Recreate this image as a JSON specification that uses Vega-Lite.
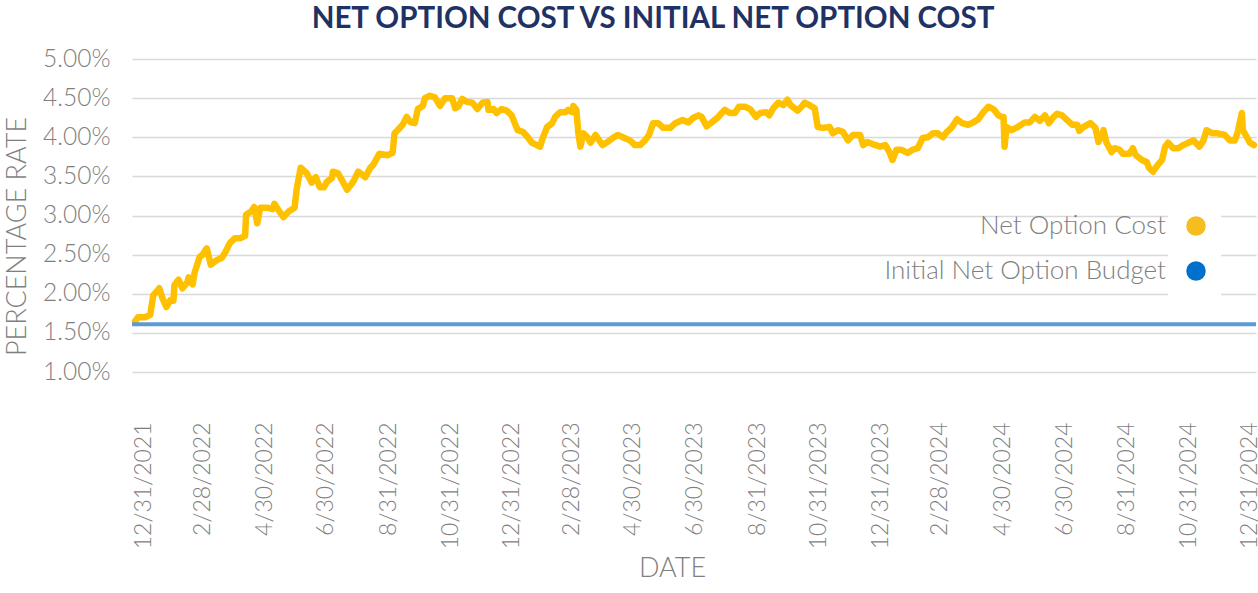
{
  "$schema": "https://vega.github.io/schema/vega-lite/v6.json",
  "width": 1124,
  "height": 313,
  "autosize": {"type": "none"},
  "padding": {"left": 132, "top": 59, "right": 2, "bottom": 221},
  "background": "white",
  "title": {
    "text": "NET OPTION COST VS INITIAL NET OPTION COST",
    "font": "Lato",
    "fontSize": 29.5,
    "fontWeight": "bold",
    "color": "#1f3264",
    "anchor": "middle",
    "frame": "group",
    "dx": -41,
    "offset": 12
  },
  "config": {
    "view": {"stroke": null},
    "axis": {"grid": true, "gridColor": "#d9d9d9", "gridWidth": 1.5, "domain": false, "ticks": false}
  },
  "datasets": {
    "cost": [
      {"date": "2021-12-23", "value": 1.65},
      {"date": "2021-12-26", "value": 1.70},
      {"date": "2022-01-02", "value": 1.70},
      {"date": "2022-01-07", "value": 1.73},
      {"date": "2022-01-10", "value": 1.98},
      {"date": "2022-01-16", "value": 2.07},
      {"date": "2022-01-19", "value": 1.95},
      {"date": "2022-01-23", "value": 1.83},
      {"date": "2022-01-27", "value": 1.92},
      {"date": "2022-01-30", "value": 1.91},
      {"date": "2022-01-31", "value": 2.11},
      {"date": "2022-02-04", "value": 2.18},
      {"date": "2022-02-08", "value": 2.07},
      {"date": "2022-02-13", "value": 2.15},
      {"date": "2022-02-14", "value": 2.21},
      {"date": "2022-02-18", "value": 2.12},
      {"date": "2022-02-20", "value": 2.27},
      {"date": "2022-02-25", "value": 2.47},
      {"date": "2022-02-28", "value": 2.50},
      {"date": "2022-03-04", "value": 2.58},
      {"date": "2022-03-08", "value": 2.37},
      {"date": "2022-03-14", "value": 2.43},
      {"date": "2022-03-19", "value": 2.46},
      {"date": "2022-03-22", "value": 2.52},
      {"date": "2022-03-27", "value": 2.65},
      {"date": "2022-04-01", "value": 2.71},
      {"date": "2022-04-06", "value": 2.71},
      {"date": "2022-04-11", "value": 2.74},
      {"date": "2022-04-12", "value": 3.01},
      {"date": "2022-04-17", "value": 3.05},
      {"date": "2022-04-20", "value": 3.11},
      {"date": "2022-04-23", "value": 2.90},
      {"date": "2022-04-26", "value": 3.10},
      {"date": "2022-05-03", "value": 3.10},
      {"date": "2022-05-08", "value": 3.08},
      {"date": "2022-05-10", "value": 3.15},
      {"date": "2022-05-14", "value": 3.07},
      {"date": "2022-05-19", "value": 2.98},
      {"date": "2022-05-24", "value": 3.05},
      {"date": "2022-05-30", "value": 3.10},
      {"date": "2022-06-01", "value": 3.33},
      {"date": "2022-06-05", "value": 3.61},
      {"date": "2022-06-11", "value": 3.54},
      {"date": "2022-06-16", "value": 3.42},
      {"date": "2022-06-20", "value": 3.49},
      {"date": "2022-06-24", "value": 3.36},
      {"date": "2022-06-28", "value": 3.36},
      {"date": "2022-07-01", "value": 3.43},
      {"date": "2022-07-06", "value": 3.48},
      {"date": "2022-07-07", "value": 3.56},
      {"date": "2022-07-12", "value": 3.54},
      {"date": "2022-07-16", "value": 3.45},
      {"date": "2022-07-21", "value": 3.33},
      {"date": "2022-07-27", "value": 3.43},
      {"date": "2022-08-01", "value": 3.56},
      {"date": "2022-08-08", "value": 3.49},
      {"date": "2022-08-13", "value": 3.61},
      {"date": "2022-08-16", "value": 3.65},
      {"date": "2022-08-22", "value": 3.79},
      {"date": "2022-08-30", "value": 3.77},
      {"date": "2022-09-04", "value": 3.80},
      {"date": "2022-09-06", "value": 4.05},
      {"date": "2022-09-09", "value": 4.09},
      {"date": "2022-09-14", "value": 4.16},
      {"date": "2022-09-18", "value": 4.26},
      {"date": "2022-09-22", "value": 4.19},
      {"date": "2022-09-26", "value": 4.18},
      {"date": "2022-09-29", "value": 4.36},
      {"date": "2022-10-04", "value": 4.40},
      {"date": "2022-10-06", "value": 4.50},
      {"date": "2022-10-11", "value": 4.53},
      {"date": "2022-10-16", "value": 4.51},
      {"date": "2022-10-21", "value": 4.40},
      {"date": "2022-10-26", "value": 4.50},
      {"date": "2022-11-02", "value": 4.50},
      {"date": "2022-11-05", "value": 4.37},
      {"date": "2022-11-08", "value": 4.39},
      {"date": "2022-11-12", "value": 4.49},
      {"date": "2022-11-17", "value": 4.45},
      {"date": "2022-11-22", "value": 4.44},
      {"date": "2022-11-27", "value": 4.36},
      {"date": "2022-12-02", "value": 4.44},
      {"date": "2022-12-07", "value": 4.45},
      {"date": "2022-12-08", "value": 4.35},
      {"date": "2022-12-13", "value": 4.36},
      {"date": "2022-12-16", "value": 4.31},
      {"date": "2022-12-21", "value": 4.36},
      {"date": "2022-12-26", "value": 4.34},
      {"date": "2022-12-31", "value": 4.28},
      {"date": "2023-01-03", "value": 4.18},
      {"date": "2023-01-06", "value": 4.09},
      {"date": "2023-01-11", "value": 4.07},
      {"date": "2023-01-16", "value": 4.00},
      {"date": "2023-01-20", "value": 3.93},
      {"date": "2023-01-25", "value": 3.90},
      {"date": "2023-01-28", "value": 3.88},
      {"date": "2023-01-31", "value": 4.00},
      {"date": "2023-02-04", "value": 4.13},
      {"date": "2023-02-09", "value": 4.18},
      {"date": "2023-02-12", "value": 4.26},
      {"date": "2023-02-17", "value": 4.32},
      {"date": "2023-02-22", "value": 4.32},
      {"date": "2023-02-25", "value": 4.35},
      {"date": "2023-03-01", "value": 4.32},
      {"date": "2023-03-02", "value": 4.40},
      {"date": "2023-03-05", "value": 4.35},
      {"date": "2023-03-07", "value": 4.05},
      {"date": "2023-03-09", "value": 3.88},
      {"date": "2023-03-12", "value": 4.05},
      {"date": "2023-03-16", "value": 4.00},
      {"date": "2023-03-19", "value": 3.93},
      {"date": "2023-03-24", "value": 4.03},
      {"date": "2023-03-26", "value": 3.99},
      {"date": "2023-03-31", "value": 3.90},
      {"date": "2023-04-05", "value": 3.94},
      {"date": "2023-04-10", "value": 3.99},
      {"date": "2023-04-15", "value": 4.03},
      {"date": "2023-04-20", "value": 4.00},
      {"date": "2023-04-27", "value": 3.96},
      {"date": "2023-05-02", "value": 3.90},
      {"date": "2023-05-07", "value": 3.90},
      {"date": "2023-05-12", "value": 3.96},
      {"date": "2023-05-16", "value": 4.03},
      {"date": "2023-05-20", "value": 4.18},
      {"date": "2023-05-25", "value": 4.18},
      {"date": "2023-05-30", "value": 4.12},
      {"date": "2023-06-06", "value": 4.12},
      {"date": "2023-06-11", "value": 4.18},
      {"date": "2023-06-18", "value": 4.22},
      {"date": "2023-06-24", "value": 4.19},
      {"date": "2023-06-29", "value": 4.25},
      {"date": "2023-07-04", "value": 4.28},
      {"date": "2023-07-07", "value": 4.26},
      {"date": "2023-07-12", "value": 4.14},
      {"date": "2023-07-17", "value": 4.19},
      {"date": "2023-07-23", "value": 4.25},
      {"date": "2023-07-27", "value": 4.31},
      {"date": "2023-07-30", "value": 4.35},
      {"date": "2023-08-04", "value": 4.31},
      {"date": "2023-08-09", "value": 4.31},
      {"date": "2023-08-13", "value": 4.39},
      {"date": "2023-08-19", "value": 4.39},
      {"date": "2023-08-24", "value": 4.36},
      {"date": "2023-08-30", "value": 4.26},
      {"date": "2023-09-03", "value": 4.31},
      {"date": "2023-09-09", "value": 4.32},
      {"date": "2023-09-12", "value": 4.28},
      {"date": "2023-09-16", "value": 4.37},
      {"date": "2023-09-21", "value": 4.44},
      {"date": "2023-09-26", "value": 4.41},
      {"date": "2023-09-30", "value": 4.48},
      {"date": "2023-10-03", "value": 4.41},
      {"date": "2023-10-10", "value": 4.34},
      {"date": "2023-10-14", "value": 4.39},
      {"date": "2023-10-17", "value": 4.44},
      {"date": "2023-10-22", "value": 4.41},
      {"date": "2023-10-27", "value": 4.37},
      {"date": "2023-10-30", "value": 4.13},
      {"date": "2023-11-04", "value": 4.12},
      {"date": "2023-11-11", "value": 4.13},
      {"date": "2023-11-14", "value": 4.05},
      {"date": "2023-11-19", "value": 4.09},
      {"date": "2023-11-24", "value": 4.07},
      {"date": "2023-11-29", "value": 3.96},
      {"date": "2023-12-04", "value": 4.03},
      {"date": "2023-12-11", "value": 4.03},
      {"date": "2023-12-14", "value": 3.90},
      {"date": "2023-12-18", "value": 3.94},
      {"date": "2023-12-24", "value": 3.91},
      {"date": "2023-12-31", "value": 3.88},
      {"date": "2024-01-05", "value": 3.90},
      {"date": "2024-01-09", "value": 3.81},
      {"date": "2024-01-12", "value": 3.71},
      {"date": "2024-01-16", "value": 3.84},
      {"date": "2024-01-21", "value": 3.84},
      {"date": "2024-01-27", "value": 3.80},
      {"date": "2024-02-01", "value": 3.84},
      {"date": "2024-02-06", "value": 3.86},
      {"date": "2024-02-11", "value": 3.99},
      {"date": "2024-02-16", "value": 4.00},
      {"date": "2024-02-21", "value": 4.05},
      {"date": "2024-02-26", "value": 4.05},
      {"date": "2024-03-02", "value": 4.00},
      {"date": "2024-03-06", "value": 4.07},
      {"date": "2024-03-11", "value": 4.13},
      {"date": "2024-03-16", "value": 4.23},
      {"date": "2024-03-21", "value": 4.18},
      {"date": "2024-03-27", "value": 4.16},
      {"date": "2024-04-01", "value": 4.19},
      {"date": "2024-04-06", "value": 4.23},
      {"date": "2024-04-11", "value": 4.32},
      {"date": "2024-04-16", "value": 4.39},
      {"date": "2024-04-21", "value": 4.36},
      {"date": "2024-04-26", "value": 4.28},
      {"date": "2024-04-29", "value": 4.26},
      {"date": "2024-05-01", "value": 4.26},
      {"date": "2024-05-02", "value": 3.88},
      {"date": "2024-05-04", "value": 4.13},
      {"date": "2024-05-09", "value": 4.09},
      {"date": "2024-05-15", "value": 4.13},
      {"date": "2024-05-22", "value": 4.19},
      {"date": "2024-05-27", "value": 4.19},
      {"date": "2024-06-01", "value": 4.26},
      {"date": "2024-06-06", "value": 4.21},
      {"date": "2024-06-11", "value": 4.28},
      {"date": "2024-06-15", "value": 4.18},
      {"date": "2024-06-19", "value": 4.25},
      {"date": "2024-06-23", "value": 4.30},
      {"date": "2024-06-28", "value": 4.28},
      {"date": "2024-07-03", "value": 4.22},
      {"date": "2024-07-08", "value": 4.16},
      {"date": "2024-07-13", "value": 4.16},
      {"date": "2024-07-15", "value": 4.08},
      {"date": "2024-07-19", "value": 4.13},
      {"date": "2024-07-26", "value": 4.18},
      {"date": "2024-07-31", "value": 4.12},
      {"date": "2024-08-03", "value": 3.94},
      {"date": "2024-08-07", "value": 4.05},
      {"date": "2024-08-08", "value": 4.09},
      {"date": "2024-08-11", "value": 3.93},
      {"date": "2024-08-16", "value": 3.81},
      {"date": "2024-08-19", "value": 3.86},
      {"date": "2024-08-24", "value": 3.84},
      {"date": "2024-08-27", "value": 3.79},
      {"date": "2024-09-03", "value": 3.79},
      {"date": "2024-09-06", "value": 3.86},
      {"date": "2024-09-09", "value": 3.77},
      {"date": "2024-09-15", "value": 3.71},
      {"date": "2024-09-20", "value": 3.68},
      {"date": "2024-09-22", "value": 3.61},
      {"date": "2024-09-26", "value": 3.56},
      {"date": "2024-10-01", "value": 3.65},
      {"date": "2024-10-05", "value": 3.71},
      {"date": "2024-10-08", "value": 3.88},
      {"date": "2024-10-11", "value": 3.93},
      {"date": "2024-10-16", "value": 3.86},
      {"date": "2024-10-21", "value": 3.86},
      {"date": "2024-10-26", "value": 3.90},
      {"date": "2024-10-31", "value": 3.93},
      {"date": "2024-11-05", "value": 3.96},
      {"date": "2024-11-11", "value": 3.88},
      {"date": "2024-11-15", "value": 3.96},
      {"date": "2024-11-18", "value": 4.09},
      {"date": "2024-11-24", "value": 4.05},
      {"date": "2024-11-29", "value": 4.05},
      {"date": "2024-12-06", "value": 4.03},
      {"date": "2024-12-11", "value": 3.96},
      {"date": "2024-12-16", "value": 3.96},
      {"date": "2024-12-19", "value": 4.07},
      {"date": "2024-12-23", "value": 4.31},
      {"date": "2024-12-24", "value": 4.09},
      {"date": "2024-12-28", "value": 4.00},
      {"date": "2024-12-31", "value": 3.93},
      {"date": "2025-01-04", "value": 3.90}
    ],
    "budget": [
      {"date": "2021-12-20", "value": 1.61},
      {"date": "2025-01-06", "value": 1.61}
    ]
  },
  "encoding": {
    "x": {
      "field": "date",
      "type": "temporal",
      "scale": {
        "type": "utc",
        "domain": [
          {"year": 2021, "month": 12, "date": 20, "utc": true},
          {"year": 2025, "month": 1, "date": 6, "utc": true}
        ]
      },
      "axis": {
        "values": [
          {"year": 2021, "month": 12, "date": 31, "utc": true},
          {"year": 2022, "month": 2, "date": 28, "utc": true},
          {"year": 2022, "month": 4, "date": 30, "utc": true},
          {"year": 2022, "month": 6, "date": 30, "utc": true},
          {"year": 2022, "month": 8, "date": 31, "utc": true},
          {"year": 2022, "month": 10, "date": 31, "utc": true},
          {"year": 2022, "month": 12, "date": 31, "utc": true},
          {"year": 2023, "month": 2, "date": 28, "utc": true},
          {"year": 2023, "month": 4, "date": 30, "utc": true},
          {"year": 2023, "month": 6, "date": 30, "utc": true},
          {"year": 2023, "month": 8, "date": 31, "utc": true},
          {"year": 2023, "month": 10, "date": 31, "utc": true},
          {"year": 2023, "month": 12, "date": 31, "utc": true},
          {"year": 2024, "month": 2, "date": 28, "utc": true},
          {"year": 2024, "month": 4, "date": 30, "utc": true},
          {"year": 2024, "month": 6, "date": 30, "utc": true},
          {"year": 2024, "month": 8, "date": 31, "utc": true},
          {"year": 2024, "month": 10, "date": 31, "utc": true},
          {"year": 2024, "month": 12, "date": 31, "utc": true}
        ],
        "grid": false,
        "labelExpr": "utcFormat(datum.value, '%-m/%-d/%Y')",
        "labelAngle": -90,
        "labelAlign": "right",
        "labelBaseline": "middle",
        "labelFont": "Lato",
        "labelFontSize": 23,
        "labelFontWeight": 300,
        "labelColor": "#7f7f7f",
        "labelPadding": 50,
        "labelOverlap": false,
        "labelFlush": false,
        "title": "DATE",
        "titleFont": "Lato",
        "titleFontSize": 27,
        "titleFontWeight": 300,
        "titleColor": "#7f7f7f",
        "titleX": 540,
        "titleY": 196,
        "titleAlign": "center",
        "titleBaseline": "middle"
      }
    },
    "y": {
      "field": "value",
      "type": "quantitative",
      "scale": {"domain": [1, 5], "nice": false, "zero": false},
      "axis": {
        "values": [1, 1.5, 2, 2.5, 3, 3.5, 4, 4.5, 5],
        "labelExpr": "format(datum.value, '.2f') + '%'",
        "labelFont": "Lato",
        "labelFontSize": 24.5,
        "labelFontWeight": 300,
        "labelColor": "#7f7f7f",
        "labelPadding": 22,
        "title": "PERCENTAGE RATE",
        "titleFont": "Lato",
        "titleFontSize": 27,
        "titleFontWeight": 300,
        "titleColor": "#7f7f7f",
        "titleX": -128,
        "titleY": 177,
        "titleAngle": -90,
        "titleAlign": "center",
        "titleBaseline": "top"
      }
    },
    "color": {
      "scale": {
        "domain": ["Net Option Cost", "Initial Net Option Budget"],
        "range": ["#FFC000", "#5B9BD5"]
      },
      "legend": {
        "orient": "none",
        "legendX": 1036,
        "legendY": 139,
        "direction": "vertical",
        "title": null,
        "labelFont": "Lato",
        "labelFontSize": 26,
        "labelFontWeight": 300,
        "labelColor": "#7f7f7f",
        "labelAlign": "right",
        "labelOffset": -43,
        "labelLimit": 0,
        "symbolType": "circle",
        "symbolSize": 380,
        "symbolStrokeWidth": 0,
        "rowPadding": 19,
        "fillColor": "white",
        "padding": 15,
        "encode": {
          "symbols": {
            "update": {
              "fill": {"signal": "datum.value === 'Net Option Cost' ? '#f5bd1f' : '#0070cc'"},
              "stroke": {"value": "transparent"}
            }
          }
        }
      }
    }
  },
  "layer": [
    {
      "data": {"name": "cost"},
      "mark": {"type": "line", "strokeWidth": 6.5, "strokeJoin": "round", "strokeCap": "round", "interpolate": "linear"},
      "encoding": {"color": {"datum": "Net Option Cost"}}
    },
    {
      "data": {"name": "budget"},
      "mark": {"type": "line", "strokeWidth": 4},
      "encoding": {"color": {"datum": "Initial Net Option Budget"}}
    }
  ]
}
